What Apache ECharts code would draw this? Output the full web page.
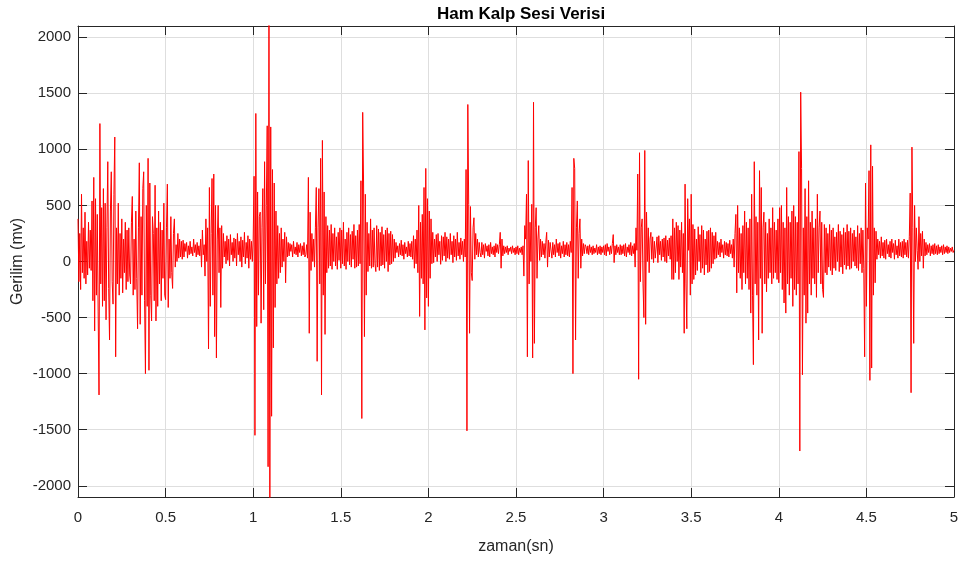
<!DOCTYPE html>
<html>
<head>
<meta charset="utf-8">
<script src="https://cdn.jsdelivr.net/npm/echarts@6/dist/echarts.min.js"></script>
<style>
  html, body { margin: 0; padding: 0; background: #ffffff; }
  #chart { width: 964px; height: 563px; }
</style>
</head>
<body>
<div id="chart"></div>
<script>
// Labels
const chartTitle = 'Ham Kalp Sesi Verisi';
const xAxisName = 'zaman(sn)';
const yAxisName = 'Gerilim (mv)';

// Tick positions
const xTicks = [0, 0.5, 1, 1.5, 2, 2.5, 3, 3.5, 4, 4.5, 5];
const yTicks = [-2000, -1500, -1000, -500, 0, 500, 1000, 1500, 2000];

// Recording: one value every 1/sampleRate seconds, in mV (one row = 0.1 s)
const sampleRate = 200;
const gerilim = [
  380, -180, 250, -250, 600, -100, 300, -150, 440, -200, 180, -120, 350, -60, 280, -80, 540, -350, 750, -620,
  560, -300, 420, -450, -1190, 1230, -200, 480, -400, 650, -350, 520, -520, 300, 890, -240, -700, 450, 800, -180,
  -380, 600, 1110, -850, 300, -200, 520, -300, 250, -150, 380, -280, 200, -100, 350, -250, 280, -180, 300, -120,
  -200, 350, 580, -300, 200, -250, 450, -150, -600, 300, 880, -560, 400, -300, 650, 800, -350, -1000, 500, -400,
  920, -970, 700, -300, -530, 400, 250, -350, 680, -530, 300, -400, 450, -200, 350, -350, 280, -150, 520, -300,
  -340, 300, 690, -410, 200, -150, 400, -100, -240, 250, 380, -50, 150, 0, 250, 30, 200, 40, 180, 20,
  190, 40, 160, 90, 170, 30, 140, 60, 180, 70, 130, 50, 200, 80, 150, 40, 170, 60, 140, 50,
  200, -50, 280, 60, 150, -130, 380, 0, 300, -780, 660, -400, 250, 740, -300, 780, -670, 500, -860, 200,
  500, -100, 300, -410, 320, -60, 250, 40, 180, -20, 230, 10, 200, -40, 240, 60, 170, 0, 210, 30,
  200, -40, 250, 60, 180, 0, 220, -50, 190, 40, 260, -20, 170, 30, 230, -60, 200, 20, 180, 0,
  200, 760, -1550, 1320, -580, 620, -300, 400, 440, -550, 300, 650, -430, 890, -200, 500, 1210, -1830, 2250, -2250,
  1200, -1380, 820, -770, 700, -410, 450, -200, 320, -150, 250, -100, 300, -50, 200, 0, 260, -190, 220, 40,
  170, 50, 160, 90, 150, 40, 180, 70, 130, 60, 170, 40, 150, 80, 160, 50, 140, 60, 170, 40,
  60, 150, 30, 750, -640, 440, -80, 250, 0, 200, -50, 300, 660, -890, 300, 650, -200, 920, -1190, 1080,
  -300, 620, -650, 400, -100, 320, -60, 280, -40, 330, -70, 250, 0, 300, -40, 220, -70, 260, 10, 300,
  -60, 280, -20, 350, -40, 200, -70, 260, 0, 300, -30, 240, -50, 270, 20, 330, -60, 230, -50, 280,
  -40, 330, -20, 720, -1400, 1330, 700, -670, 600, -300, 350, -90, 250, -40, 380, -60, 280, -50, 300, -20,
  -90, 320, -50, 290, -80, 260, -40, 310, -30, 240, -60, 280, 0, 300, -90, 250, -30, 270, -20, 240,
  0, 200, 30, 170, 80, 140, 40, 160, 60, 190, 50, 150, 20, 170, 70, 130, 40, 180, 50, 160,
  40, 180, 20, 230, -60, 200, -20, 280, -100, 500, -490, 350, -150, 420, -200, 660, -610, 830, -325, 560,
  -400, 450, -150, 380, -20, 260, -10, 200, 40, 240, 0, 250, 60, 180, -25, 230, 10, 220, 50, 260,
  0, 220, 30, 200, 20, 250, 60, 180, -10, 230, 40, 200, 10, 260, 50, 170, 20, 210, 60, 180,
  0, 200, 40, 820, -1510, 1400, 510, -640, 490, -100, -170, 300, 390, 20, 250, 60, 200, 40, 170, 80,
  40, 170, 60, 150, 30, 160, 90, 140, 50, 150, 40, 170, 70, 130, 60, 140, 40, 160, 80, 150,
  70, 150, 260, -60, 200, 50, 140, 70, 130, 80, 140, 60, 120, 90, 130, 70, 140, 80, 120, 60,
  130, 70, 140, 60, 120, 80, 130, 60, 140, -130, 320, 200, 600, -850, 900, -200, 350, 0, 510, -860,
  1420, -730, 300, 480, -150, 200, 320, 10, 200, 40, 180, 60, 160, 30, 170, 260, -50, 190, 40, 170,
  180, 30, 170, 60, 150, 40, 200, 80, 160, 50, 170, 30, 140, 70, 180, 40, 150, 60, 170, 50,
  150, 40, 180, 80, 660, -1000, 920, 830, -700, 300, 540, -150, 250, 380, -60, 200, 50, 160, 70, 150,
  130, 70, 140, 60, 150, 80, 130, 60, 140, 70, 120, 80, 150, 60, 130, 70, 140, 60, 130, 80,
  140, 60, 150, 50, 160, 90, 130, 60, 140, 70, 160, 240, -10, 140, 60, 150, 80, 130, 60, 150,
  60, 140, 70, 150, 50, 160, 40, 130, 80, 150, 60, 170, 50, 140, 70, 160, -50, 300, 100, 780,
  -1050, 970, -180, 300, 380, -200, -500, 990, -560, 440, 0, 300, -100, 200, 260, 20, 220, -10, 180, 30,
  20, 220, -10, 230, 60, 180, 10, 200, 40, 210, 0, 230, -10, 190, 50, 210, 20, 230, -160, 380,
  -160, 300, -100, 350, 0, 320, -160, 280, -50, 350, -100, 250, -640, 690, -200, -600, 560, 100, 380, -300,
  600, -200, 330, -160, 290, -120, 200, -80, 310, 0, 240, -100, 320, -60, 280, -120, 200, -30, 270, -100,
  280, -90, 300, -60, 260, -20, 230, 20, 260, 30, 180, 60, 170, 40, 200, 80, 150, 30, 180, 60,
  170, 50, 160, 40, 190, 70, 150, 30, 200, -50, 250, 420, -280, 500, -100, 300, -150, 250, -250, 320,
  -100, 450, -200, 350, -150, 300, -250, 380, -460, 600, -300, -920, 890, -200, 400, -300, 350, -700, 810, -150,
  660, -640, 300, 440, -200, 350, -270, 250, -150, 380, -100, 300, -200, 480, -150, 350, -100, 280, -160, 380,
  -190, 480, -100, 500, -250, 350, -370, 300, -460, 660, -200, 400, -300, 350, -150, 450, -400, 500, -250, 400,
  -300, 350, -200, 980, -1690, 1510, 830, -1010, 300, -300, 650, -550, 400, -460, 720, -200, 350, -300, 450, -150,
  300, -200, 380, -320, 600, -100, 300, 450, -200, 350, -250, -320, 330, -100, 300, -120, 250, -50, 330, -80,
  280, -120, 300, -60, 220, -80, 260, 0, 330, -90, 270, -50, 240, -110, 300, -30, 260, -70, 330, -40,
  270, -70, 300, -60, 250, 0, 280, -40, 220, -60, 320, -80, 250, -20, 300, -100, 280, -60, -850, 700,
  -400, 300, 200, 810, -1060, 1040, -950, 850, -300, 300, -190, 270, 20, 200, 60, 180, 30, 220, 50, 170,
  30, 190, 20, 200, 70, 150, 40, 180, 30, 200, 80, 160, 20, 190, 60, 140, 30, 200, 50, 170,
  40, 180, 30, 200, 60, 170, 40, 190, 30, 220, 610, -1170, 1020, 300, -730, 500, 0, 300, 100, -70,
  400, 0, 250, 50, 270, -60, 200, 50, 170, 60, 150, 80, 160, 50, 140, 70, 150, 60, 160, 70,
  140, 60, 150, 70, 130, 80, 140, 60, 150, 70, 130, 80, 140, 70, 130, 80, 120, 90, 130, 80,
  100
];

const points = gerilim.map((v, i) => [i / sampleRate, v]);

const axisColor = '#262626';
const gridColor = '#dedede';
const fontFamily = '"Liberation Sans", Arial, Helvetica, sans-serif';

const chart = echarts.init(document.getElementById('chart'), null, { renderer: 'canvas' });

const tickStyle = { show: true, inside: true, length: 9, lineStyle: { color: axisColor, width: 1 } };
const lineStyleAxis = { show: true, onZero: false, lineStyle: { color: axisColor, width: 1 } };

chart.setOption({
  animation: false,
  backgroundColor: '#ffffff',
  title: {
    text: chartTitle,
    left: 516,
    top: 1,
    textAlign: 'center',
    textStyle: { fontFamily, fontSize: 17, fontWeight: 'bold', color: '#000000' }
  },
  grid: { left: 78, right: 10, top: 26, bottom: 66, containLabel: false, outerBoundsMode: 'none' },
  xAxis: [
    {
      type: 'value', position: 'bottom', min: 0, max: 5, interval: 0.5,
      name: xAxisName, nameLocation: 'middle', nameGap: 42, nameMoveOverlap: false,
      nameTextStyle: { fontFamily, fontSize: 16, color: axisColor },
      axisLine: lineStyleAxis,
      axisTick: tickStyle,
      axisLabel: { fontFamily, fontSize: 15, color: axisColor, margin: 13,
        customValues: xTicks, formatter: v => String(v) },
      splitLine: { show: true, lineStyle: { color: gridColor, width: 1 } }
    },
    {
      type: 'value', position: 'top', min: 0, max: 5, interval: 0.5,
      axisLine: lineStyleAxis,
      axisTick: tickStyle,
      axisLabel: { show: false },
      splitLine: { show: false }
    }
  ],
  yAxis: [
    {
      type: 'value', position: 'left', min: -2100, max: 2100,
      name: yAxisName, nameLocation: 'middle', nameGap: 52, nameRotate: 90, nameMoveOverlap: false,
      nameTextStyle: { fontFamily, fontSize: 16, color: axisColor },
      axisLine: lineStyleAxis,
      axisTick: Object.assign({ customValues: yTicks }, tickStyle),
      axisLabel: { fontFamily, fontSize: 15, color: axisColor, margin: 7,
        customValues: yTicks, formatter: v => String(v) },
      splitLine: { show: true, lineStyle: { color: gridColor, width: 1 } }
    },
    {
      type: 'value', position: 'right', min: -2100, max: 2100,
      axisLine: lineStyleAxis,
      axisTick: Object.assign({ customValues: yTicks }, tickStyle),
      axisLabel: { show: false, customValues: yTicks },
      splitLine: { show: false }
    }
  ],
  series: [
    {
      type: 'line',
      xAxisIndex: 0,
      yAxisIndex: 0,
      data: points,
      showSymbol: false,
      symbol: 'none',
      clip: true,
      lineStyle: { color: '#ff0000', width: 1 },
      z: 3
    }
  ]
});
</script>
</body>
</html>
